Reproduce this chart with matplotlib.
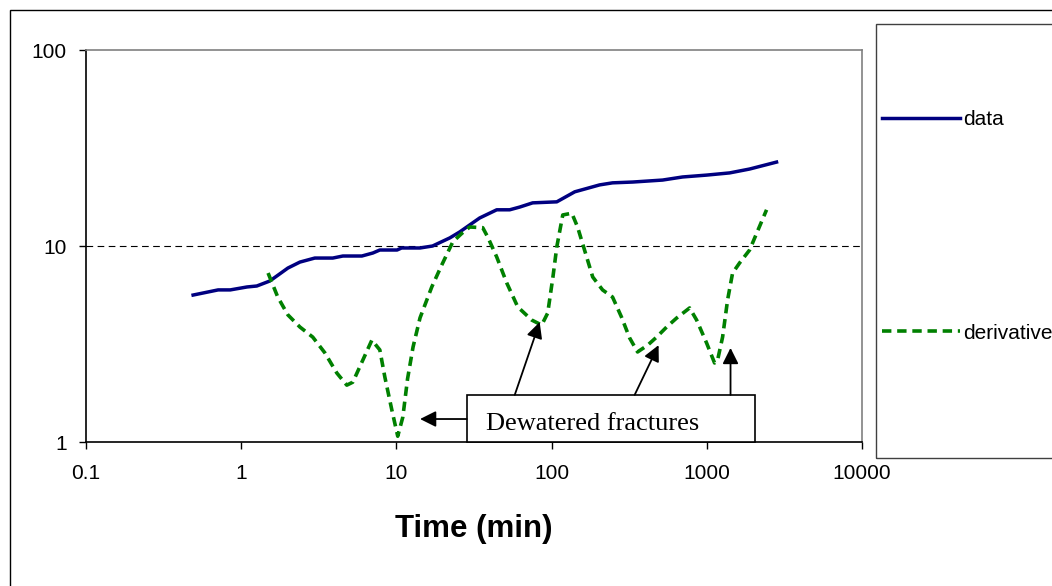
import matplotlib
matplotlib.use("Agg")
import matplotlib.pyplot as plt
from matplotlib.patches import Rectangle

# data curve (time in min, value)
data_t = [0.49, 0.71, 0.85, 1.09, 1.26, 1.53, 2.0, 2.39, 2.98, 3.89, 4.52, 5.99, 7.05, 7.82,
          10.1, 10.8, 14.2, 17.1, 22.1, 25.6, 28.4, 34.4, 44.3, 53.7, 62.3, 75.5, 108, 141,
          204, 247, 333, 519, 698, 997, 1403, 1887, 2814]
data_p = [5.62, 5.97, 5.97, 6.18, 6.25, 6.63, 7.72, 8.28, 8.68, 8.68, 8.89, 8.89, 9.21, 9.54,
          9.54, 9.77, 9.77, 10.0, 11.0, 11.8, 12.5, 13.9, 15.3, 15.3, 15.8, 16.6, 16.8, 18.9,
          20.5, 21.0, 21.2, 21.7, 22.5, 23.0, 23.6, 24.7, 26.8]

# derivative curve
deriv_t = [1.49, 1.72, 2.0, 2.39, 2.89, 3.46, 4.13, 4.79, 5.24, 6.08, 6.95, 7.82, 8.42, 9.34,
           10.2, 11.0, 11.8, 12.8, 14.2, 16.9, 19.6, 23.1, 26.4, 29.7, 36.0, 38.8, 44.3, 51.4,
           60.5, 74.5, 86.3, 94.4, 102, 108, 118, 135, 147, 163, 184, 213, 247, 282, 318, 358,
           416, 475, 551, 639, 775, 860, 997, 1122, 1174, 1264, 1361, 1466, 1626, 1887, 2094, 2427]
deriv_d = [7.28, 5.49, 4.45, 3.86, 3.43, 2.85, 2.25, 1.95, 2.02, 2.62, 3.31, 2.95, 2.15, 1.46,
           1.07, 1.34, 2.1, 3.05, 4.3, 6.18, 8.0, 10.5, 11.6, 12.5, 12.4, 11.1, 8.79, 6.48,
           4.89, 4.19, 3.95, 4.55, 6.95, 9.89, 14.4, 14.7, 12.5, 9.54, 6.95, 5.97, 5.49, 4.34,
           3.40, 2.88, 3.12, 3.43, 3.86, 4.29, 4.83, 4.19, 3.20, 2.53, 2.62, 3.43, 5.30, 7.28,
           8.19, 9.54, 11.6, 15.3]

x_ticks = [0.1, 1, 10, 100, 1000, 10000]
x_labels = ["0.1", "1", "10", "100", "1000", "10000"]
y_ticks = [1, 10, 100]
y_labels = ["1", "10", "100"]

# arrow tips and tails for the "Dewatered fractures" callout
arrow_tips = [(14.2, 1.31), (83.8, 4.09), (489, 3.12), (1422, 3.02)]
arrow_tails = [(28.4, 1.31), (57.9, 1.74), (343, 1.74), (1422, 1.74)]


def run():
    W, H = 1052, 586
    fig = plt.figure(figsize=(W / 100, H / 100), dpi=100)
    fig.patch.set_facecolor("white")
    plt.rcParams["font.family"] = ["Liberation Sans", "DejaVu Sans"]

    ax = fig.add_axes([86 / W, 1 - 442 / H, 776 / W, 392 / H])

    ax.plot(data_t, data_p, color="#000080", lw=2.5, label="data", zorder=3)
    ax.plot(deriv_t, deriv_d, color="#008000", lw=2.6, linestyle=(0, (2.6, 1.6)),
            label="derivative", zorder=3)
    ax.axhline(10, color="black", lw=0.8, linestyle=(0, (6, 4)), zorder=1)

    ax.set_xscale("log")
    ax.set_yscale("log")
    ax.set_xlim(0.1, 10000)
    ax.set_ylim(1, 100)
    ax.set_xticks(x_ticks)
    ax.set_xticklabels(x_labels)
    ax.set_yticks(y_ticks)
    ax.set_yticklabels(y_labels)
    ax.minorticks_off()
    ax.tick_params(axis="both", direction="out", length=5, width=1, labelsize=15, color="black")
    ax.tick_params(axis="x", pad=11)
    ax.tick_params(axis="y", pad=9)

    for side in ["left", "bottom"]:
        ax.spines[side].set_color("black")
        ax.spines[side].set_linewidth(1.2)
    for side in ["top", "right"]:
        ax.spines[side].set_color("#808080")
        ax.spines[side].set_linewidth(1.2)

    ax.set_xlabel("Time (min)", fontsize=22.5, fontweight="bold", labelpad=22)

    # callout box
    box = Rectangle((0.491, 0.0), 0.371, 0.12, transform=ax.transAxes, facecolor="white",
                    edgecolor="black", lw=1.2, zorder=5, clip_on=False)
    ax.add_patch(box)
    ax.text(0.653, 0.031, "Dewatered fractures", transform=ax.transAxes, ha="center",
            va="baseline", fontsize=19, family=["Liberation Serif", "DejaVu Serif"], zorder=6)
    for tip, tail in zip(arrow_tips, arrow_tails):
        ax.annotate("", xy=tip, xytext=tail,
                    arrowprops=dict(arrowstyle="-|>", color="black", lw=1.3,
                                    mutation_scale=24, shrinkA=0, shrinkB=0),
                    zorder=6)

    # outer chart border and legend frame
    fig.patches.append(Rectangle((10 / W, -0.1), 1.2, 1.1 - 10 / H, transform=fig.transFigure,
                                 fill=False, edgecolor="black", lw=1, zorder=0))
    fig.patches.append(Rectangle((876 / W, 1 - 458 / H), 0.5, 434 / H, transform=fig.transFigure,
                                 fill=False, edgecolor="#404040", lw=1, zorder=0))

    ax.legend(loc="upper left", bbox_to_anchor=(882 / W, 1 - 110 / H),
              bbox_transform=fig.transFigure, frameon=False, fontsize=15,
              handlelength=3.75, handletextpad=0.15, labelspacing=9.35,
              borderpad=0, borderaxespad=0)

    fig.savefig("out.png", dpi=100, facecolor="white")


if __name__ == "__main__":
    run()
